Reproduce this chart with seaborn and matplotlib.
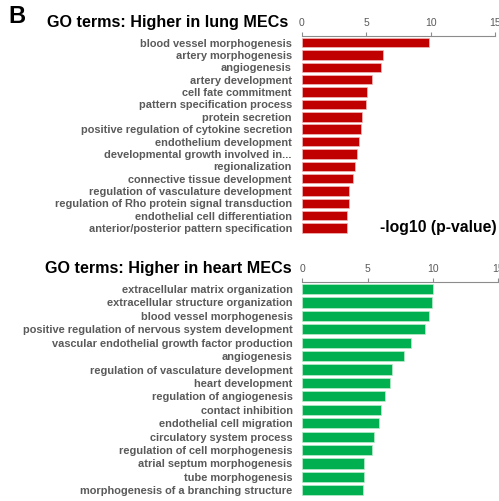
import matplotlib
matplotlib.use("Agg")
import matplotlib.pyplot as plt
import seaborn as sns
import pandas as pd

# GO enrichment terms and -log10(p) values
lung_terms = [
    "blood vessel morphogenesis",
    "artery morphogenesis",
    "angiogenesis",
    "artery development",
    "cell fate commitment",
    "pattern specification process",
    "protein secretion",
    "positive regulation of cytokine secretion",
    "endothelium development",
    "developmental growth involved in...",
    "regionalization",
    "connective tissue development",
    "regulation of vasculature development",
    "regulation of Rho protein signal transduction",
    "endothelial cell differentiation",
    "anterior/posterior pattern specification",
]
lung_values = [9.89, 6.33, 6.12, 5.49, 5.05, 5.02, 4.66, 4.63,
               4.42, 4.27, 4.16, 3.98, 3.67, 3.65, 3.54, 3.51]

heart_terms = [
    "extracellular matrix organization",
    "extracellular structure organization",
    "blood vessel morphogenesis",
    "positive regulation of nervous system development",
    "vascular endothelial growth factor production",
    "angiogenesis",
    "regulation of vasculature development",
    "heart development",
    "regulation of angiogenesis",
    "contact inhibition",
    "endothelial cell migration",
    "circulatory system process",
    "regulation of cell morphogenesis",
    "atrial septum morphogenesis",
    "tube morphogenesis",
    "morphogenesis of a branching structure",
]
heart_values = [10.0, 9.92, 9.69, 9.38, 8.31, 7.77, 6.88, 6.69,
                6.31, 6.05, 5.85, 5.46, 5.31, 4.75, 4.75, 4.69]

x_ticks = [0, 5, 10, 15]

sns.set_theme(style="white")
plt.rcParams["font.family"] = ["Liberation Sans", "DejaVu Sans"]

W, H = 499, 501
fig = plt.figure(figsize=(W / 100, H / 100), dpi=100)

label_grey = "#5a5a5a"
axis_grey = "#8c8c8c"


def panel(rect, terms, values, color, edge):
    ax = fig.add_axes(rect)
    df = pd.DataFrame({"term": terms, "value": values})
    sns.barplot(data=df, x="value", y="term", orient="h", color=color,
                saturation=1, width=0.76, edgecolor=edge,
                linewidth=0.5, ax=ax)
    ax.set_xlim(0, 15)
    ax.set_xticks(x_ticks)
    ax.xaxis.tick_top()
    ax.set_xlabel("")
    ax.set_ylabel("")
    for side in ("right", "bottom", "left"):
        ax.spines[side].set_visible(False)
    ax.spines["top"].set_color(axis_grey)
    ax.spines["top"].set_linewidth(0.8)
    ax.tick_params(axis="x", top=True, bottom=False, direction="out",
                   length=3, width=0.8, color=axis_grey, labelsize=7.5,
                   labelcolor=label_grey, pad=3)
    ax.tick_params(axis="y", left=False, length=0, pad=7, labelsize=7.9,
                   labelcolor=label_grey)
    for lbl in ax.get_yticklabels():
        lbl.set_fontweight("bold")
    ax.grid(False)
    return ax


ax1 = panel([301.7 / W, 1 - 234.2 / H, 193.3 / W, 197.7 / H],
            lung_terms, lung_values, "#c00000", "#f2b8b8")
ax2 = panel([302.3 / W, 1 - 497.0 / H, 195.7 / W, 214.7 / H],
            heart_terms, heart_values, "#00b050", "#b8ecc8")

fig.text(8 / W, 1 - 23 / H, "B", fontsize=17, fontweight="bold",
         color="black", ha="left", va="baseline")
fig.text(47 / W, 1 - 26.5 / H, "GO terms: Higher in lung MECs", fontsize=11.6,
         fontweight="bold", color="black", ha="left", va="baseline")
fig.text(45 / W, 1 - 273 / H, "GO terms: Higher in heart MECs", fontsize=11.6,
         fontweight="bold", color="black", ha="left", va="baseline")
fig.text(380 / W, 1 - 232 / H, "-log10 (p-value)", fontsize=11.3,
         fontweight="bold", color="black", ha="left", va="baseline")

fig.savefig("out.png", dpi=100)
